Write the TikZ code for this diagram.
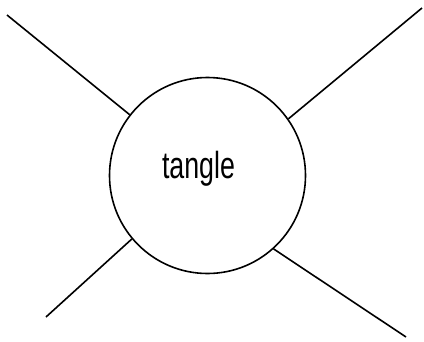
\documentclass[tikz,border=0pt]{standalone}
\usepackage{fontspec}
\setmainfont{Liberation Sans}
\begin{document}
\begin{tikzpicture}[x=1pt,y=-1pt,
  ln/.style={line width=1.6pt,black},
  ring/.style={circle,draw,line width=1.6pt,minimum size=196pt,inner sep=0pt}]
\useasboundingbox (0,0) rectangle (424,341);
\node[ring] (c) at (207.5,175.5) {};
\node[anchor=base,inner sep=0pt,xscale=0.71,font=\fontsize{37.7}{40}\selectfont] (t) at (198.5,178) {tangle};
\coordinate (tl) at (7,15);
\coordinate (tr) at (422,8);
\coordinate (bl) at (46,317);
\coordinate (br) at (406,337);
\draw[ln] (tl) -- (c.142.4);
\draw[ln] (tr) -- (c.35.2);
\draw[ln] (bl) -- (c.220.2);
\draw[ln] (br) -- (c.-48.3);
\end{tikzpicture}
\end{document}
